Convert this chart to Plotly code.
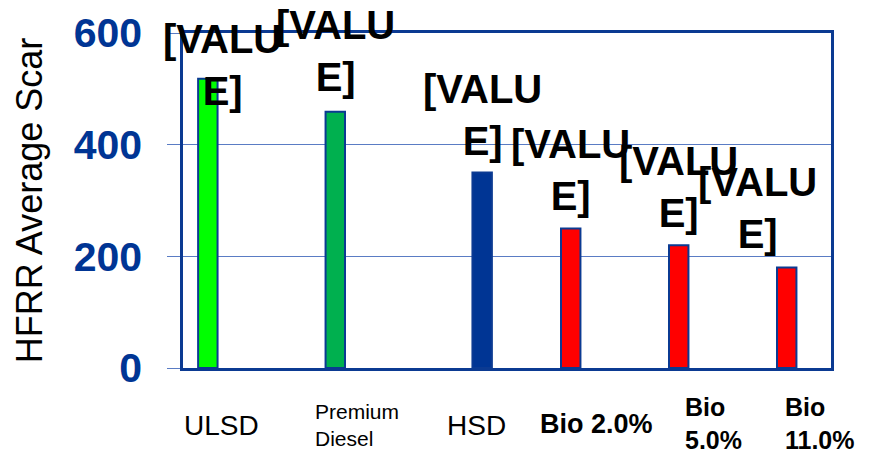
import plotly.graph_objects as go

# ---- data ----
categories = ["ULSD", "Premium Diesel", "HSD", "Bio 2.0%", "Bio 5.0%", "Bio 11.0%"]
ulsd_vals = [518, None, None, None, None, None]
premium_vals = [None, 459, None, None, None, None]
bio_vals = [None, None, None, 250, 220, 180]
hsd_vals = [None, None, 350, None, None, None]
all_vals = [518, 459, 350, 250, 220, 180]
value_label = "[VALU<br>E]"
y_ticks = [0, 200, 400, 600]

# ---- style ----
FONT = "Arial, Liberation Sans, sans-serif"
NAVY = "#0b3a92"
GRID = "#5a7cc4"
BODY = 8  # default page margin of the html body
L, R, T, B = 183 - BODY, 41, 33 - BODY, 82
W, H = 872 - BODY, 450 - BODY
BARGAP = 0.28

fig = go.Figure()
series = [
    (ulsd_vals, "#00ff00"),
    (premium_vals, "#00b04f"),
    (bio_vals, "#ff0000"),
    (hsd_vals, "#003594"),
]
for vals, col in series:
    fig.add_trace(go.Bar(
        x=categories, y=vals,
        marker=dict(color=col, line=dict(color=NAVY, width=2)),
        showlegend=False, hoverinfo="skip",
    ))

# slot offsets of grouped bars (computed from layout geometry)
plot_w = W - L - R
cat_w = plot_w / len(categories)
slot_w = cat_w * (1 - BARGAP) / len(series)
slot_of = [0, 1, 3, 2, 2, 2]  # which series slot each category's bar sits in
def slot_offset(i):
    return (slot_of[i] - (len(series) - 1) / 2) * slot_w

# value labels
nudge = {0: (15, -44), 1: (0, 3), 5: (-29, 2)}
annotations = []
for i, (c, v) in enumerate(zip(categories, all_vals)):
    dx, dy = nudge.get(i, (0, 0))
    annotations.append(dict(
        x=c, y=v, xref="x", yref="y",
        text=value_label, showarrow=False,
        xanchor="center", yanchor="bottom", align="center",
        xshift=slot_offset(i) + dx, yshift=8 + dy,
        font=dict(family=FONT, size=40, color="black", weight="bold"),
    ))

# category labels (drawn as text below the axis)
x_label_text = ["ULSD", "Premium<br>Diesel", "HSD", "<b>Bio 2.0%</b>", "<b>Bio<br>5.0%</b>", "<b>Bio<br>11.0%</b>"]
x_label_size = [28, 21, 28, 27, 25, 25]
x_label_left = [-55, -32, -8, -23, 14, 6]
x_label_dy = [-57, -57, -57, -56, -55, -55]
for c, t, s, lx, ly in zip(categories, x_label_text, x_label_size, x_label_left, x_label_dy):
    annotations.append(dict(
        x=c, y=0, xref="x", yref="y",
        text=t, showarrow=False,
        xanchor="left", yanchor="middle", align="left",
        xshift=lx, yshift=ly,
        font=dict(family=FONT, size=s, color="black"),
    ))

fig.update_layout(
    width=W, height=H,
    margin=dict(l=L, r=R, t=T, b=B, pad=0),
    paper_bgcolor="white", plot_bgcolor="white",
    barmode="group", bargap=BARGAP, bargroupgap=0,
    annotations=annotations,
    font=dict(family=FONT),
)
fig.update_xaxes(
    range=[-0.5, len(categories) - 0.5],
    showticklabels=False, ticks="", showgrid=False,
    showline=True, linecolor=NAVY, linewidth=2.5, mirror=True,
)
fig.update_yaxes(
    range=[0, 600], tickvals=y_ticks,
    showgrid=True, gridcolor=GRID, gridwidth=1,
    ticks="outside", ticklen=13, tickcolor=GRID, tickwidth=1,
    ticklabelstandoff=17,
    tickfont=dict(family=FONT, size=41, color="#003594", weight="bold"),
    showline=True, linecolor=NAVY, linewidth=2.5, mirror=True,
    zeroline=False,
    title=dict(text="HFRR Average Scar", standoff=21,
               font=dict(family=FONT, size=36, color="black")),
    automargin=False,
)

fig.write_html("out.html")
